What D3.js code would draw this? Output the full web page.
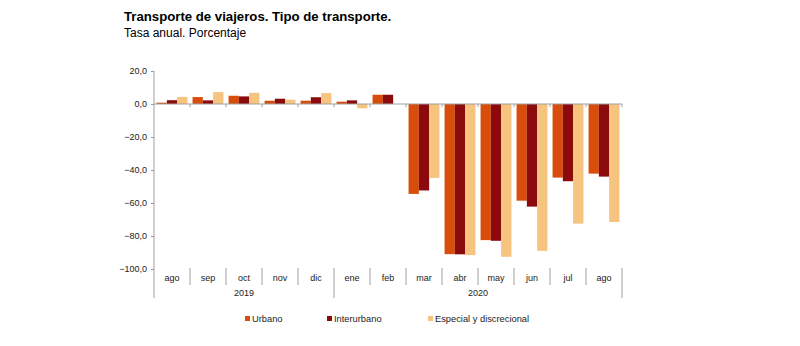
<!DOCTYPE html>
<html>
<head>
<meta charset="utf-8">
<script src="https://cdn.jsdelivr.net/npm/d3@7"></script>
<style>
  body { margin: 0; background: #fff; }
  text { font-family: "Liberation Sans", Arial, sans-serif; }
</style>
</head>
<body>
<script>
// monthly annual rates, Aug 2019 - Aug 2020
var months = ["ago", "sep", "oct", "nov", "dic", "ene", "feb", "mar", "abr", "may", "jun", "jul", "ago"];
var years = [{label: "2019", from: 0, to: 5}, {label: "2020", from: 5, to: 13}];
var seriesNames = ["Urbano", "Interurbano", "Especial y discrecional"];
var urbano = [0.8, 4.2, 5.0, 2.0, 2.0, 1.4, 5.6, -54.5, -91.0, -82.5, -58.6, -44.6, -42.2];
var interurbano = [2.3, 2.2, 4.6, 3.2, 4.1, 2.2, 5.6, -52.4, -91.1, -82.9, -62.2, -46.8, -44.0];
var especial = [4.3, 7.2, 6.8, 2.6, 6.6, -2.6, null, -44.8, -91.6, -92.6, -89.0, -72.5, -71.5];
var yTicks = [20, 0, -20, -40, -60, -80, -100];
var colors = ["#d94d0c", "#8b0a0c", "#f6c47e"];

var width = 800, height = 346;
var margin = {left: 154, right: 178, top: 71};

var svg = d3.select("body").append("svg")
    .attr("width", width)
    .attr("height", height);

svg.append("text")
    .attr("x", 124).attr("y", 21)
    .attr("font-size", "13.2px").attr("font-weight", "bold")
    .text("Transporte de viajeros. Tipo de transporte.");
svg.append("text")
    .attr("x", 124).attr("y", 37)
    .attr("font-size", "12px")
    .text("Tasa anual. Porcentaje");

var x = d3.scaleBand()
    .domain(d3.range(months.length))
    .range([margin.left, width - margin.right]);
var xs = d3.scaleBand()
    .domain(d3.range(seriesNames.length))
    .range([0, x.bandwidth()])
    .paddingOuter(0.25);
var y = d3.scaleLinear()
    .domain([-100, 20])
    .range([269, 71]);

var rows = months.map(function(m, i) {
  return [urbano[i], interurbano[i], especial[i]];
});

// bars
var groups = svg.selectAll(".month")
    .data(rows)
  .enter().append("g")
    .attr("class", "month")
    .attr("transform", function(d, i) { return "translate(" + x(i) + ",0)"; });

groups.selectAll("rect")
    .data(function(d) { return d.map(function(v, k) { return {k: k, v: v}; }).filter(function(e) { return e.v != null; }); })
  .enter().append("rect")
    .attr("x", function(d) { return xs(d.k); })
    .attr("width", xs.bandwidth())
    .attr("y", function(d) { return y(Math.max(0, d.v)); })
    .attr("height", function(d) { return Math.abs(y(d.v) - y(0)); })
    .attr("fill", function(d) { return colors[d.k]; });

// y axis
var yAxis = svg.append("g")
    .attr("transform", "translate(" + margin.left + ",0)")
    .call(d3.axisLeft(y).tickValues(yTicks).tickSize(3).tickPadding(4)
      .tickFormat(function(d) { return d3.format(".1f")(d).replace(".", ","); }));
yAxis.select(".domain").remove();
yAxis.selectAll("line").attr("stroke", "#999");
yAxis.selectAll("text").attr("font-size", "9px").attr("fill", "#222")
    .attr("font-family", "Liberation Sans, Arial, sans-serif");

var axisColor = "#a0a0a0";
svg.append("line")
    .attr("x1", margin.left).attr("x2", margin.left)
    .attr("y1", y(20)).attr("y2", 298)
    .attr("stroke", axisColor);

// zero line with small ticks at band boundaries
svg.append("line")
    .attr("x1", margin.left).attr("x2", width - margin.right)
    .attr("y1", y(0)).attr("y2", y(0))
    .attr("stroke", axisColor);
svg.selectAll(".zt")
    .data(d3.range(1, months.length + 1))
  .enter().append("line")
    .attr("x1", function(i) { return margin.left + i * x.step(); })
    .attr("x2", function(i) { return margin.left + i * x.step(); })
    .attr("y1", y(0)).attr("y2", y(0) + 3)
    .attr("stroke", axisColor);

// month labels and separators
svg.selectAll(".mlabel")
    .data(months)
  .enter().append("text")
    .attr("x", function(d, i) { return x(i) + x.bandwidth() / 2; })
    .attr("y", 281)
    .attr("text-anchor", "middle")
    .attr("font-size", "9px")
    .attr("fill", "#222")
    .text(function(d) { return d; });

var yearEdges = years.map(function(d) { return d.from; }).concat([months.length]);
svg.selectAll(".msep")
    .data(d3.range(1, months.length + 1))
  .enter().append("line")
    .attr("x1", function(i) { return margin.left + i * x.step(); })
    .attr("x2", function(i) { return margin.left + i * x.step(); })
    .attr("y1", 268)
    .attr("y2", function(i) { return yearEdges.indexOf(i) >= 0 ? 298 : 285; })
    .attr("stroke", axisColor);

svg.selectAll(".ylabel")
    .data(years)
  .enter().append("text")
    .attr("x", function(d) { return margin.left + (d.from + d.to) / 2 * x.step(); })
    .attr("y", 296)
    .attr("text-anchor", "middle")
    .attr("font-size", "9px")
    .attr("fill", "#222")
    .text(function(d) { return d.label; });

// legend
var legendX = [245, 327, 428];
var legend = svg.selectAll(".legend")
    .data(seriesNames)
  .enter().append("g")
    .attr("transform", function(d, i) { return "translate(" + legendX[i] + ",322)"; });
legend.append("rect")
    .attr("x", 0).attr("y", -6)
    .attr("width", 5).attr("height", 5)
    .attr("fill", function(d, i) { return colors[i]; });
legend.append("text")
    .attr("x", 7).attr("y", 0)
    .attr("font-size", "9.3px")
    .attr("fill", "#222")
    .text(function(d) { return d; });
</script>
</body>
</html>
